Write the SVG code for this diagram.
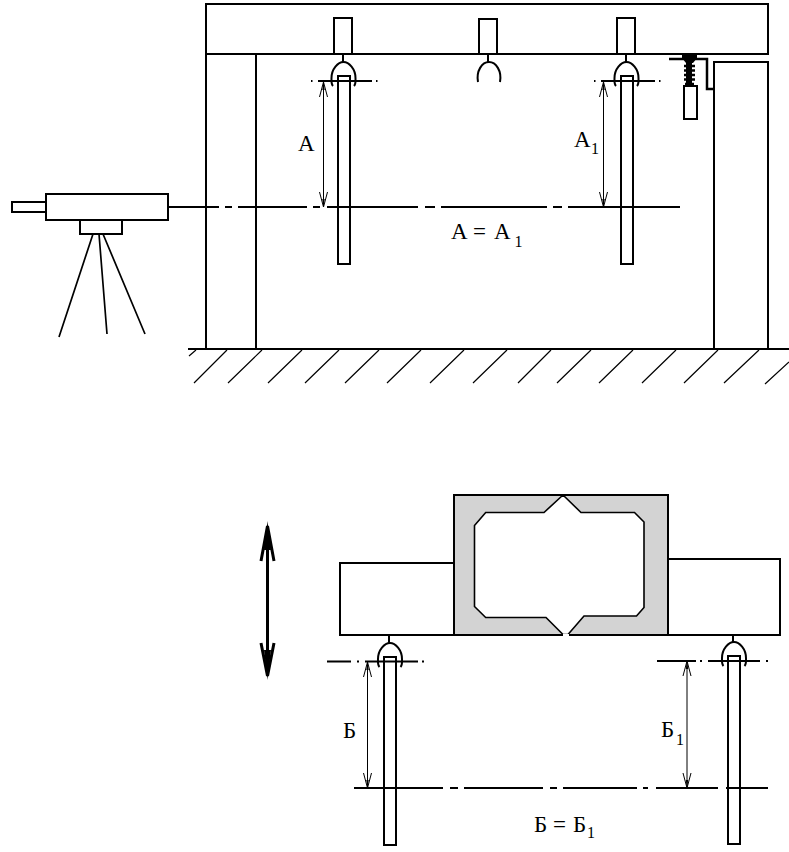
<svg xmlns="http://www.w3.org/2000/svg" width="789" height="852" viewBox="0 0 789 852">
<style>
.l{fill:none;stroke:#000;stroke-width:2}
.w{fill:#fff;stroke:#000;stroke-width:2}
.h{fill:none;stroke:#000;stroke-width:1.2}
.g{fill:none;stroke:#000;stroke-width:1.700}
.c{fill:none;stroke:#000;stroke-width:2.500}
.d{fill:none;stroke:#000;stroke-width:1}
.t{font-family:"Liberation Serif","Times New Roman",serif;font-size:23px;fill:#000}
.s{font-size:16px}
</style>
<defs>
<g id="hook"><path class="l" d="M-10,5 C-12,3 -11.500,-1 -11.500,-3 C-11.500,-12 -5,-19 0.500,-19 C6,-19 12.500,-12 12.500,-3 C12.500,-1 13,3 11,5"/></g>
<g id="arrUp"><path class="d" d="M-4,15 L0,0 L4,15"/><path d="M-1.200,8 L0,0 L1.200,8Z"/></g>
<g id="arrDown"><path class="d" d="M-4,-15 L0,0 L4,-15"/><path d="M-1.200,-8 L0,0 L1.200,-8Z"/></g>
</defs>
<rect width="789" height="852" fill="#fff"/>
<g id="frame">
<rect class="l" x="206" y="4" width="562" height="50"/>
<path class="l" d="M206,54V349M256,54V349M714,349V62H768V349"/>
</g>
<g id="ground">
<path class="l" d="M188,349H789"/>
<path class="h" d="M189,356L196,350M194,383L227,350M228,383L262,350M268,383L302,350M305,383L339,350M345,383L379,350M387,383L421,350M430,383L464,350M473,383L507,350M518,383L551,350M557,383L591,350M599,383L633,350M642,383L676,350M684,383L718,350M724,383L759,350M765,384L789,362"/>
</g>
<g id="level">
<rect class="l" x="12" y="202" width="34" height="10"/>
<rect class="l" x="46" y="194" width="122" height="26"/>
<rect class="l" x="80" y="220" width="42" height="14"/>
<path class="g" d="M93,234L59,337M99,234L107,334M103,234L145,334"/>
</g>
<g id="hanger1">
<rect class="l" x="334" y="18" width="18" height="36"/>
<path class="l" d="M343,54V62"/>
<use href="#hook" x="343" y="81"/>
</g>
<g id="hanger2">
<rect class="l" x="479" y="19" width="18" height="35"/>
<path class="l" d="M488,54V62"/>
<path class="l" d="M478,82C476,71 482,62 489,62C496,62 502,71 500,82"/>
</g>
<g id="hanger3">
<rect class="l" x="617" y="18" width="18" height="36"/>
<path class="l" d="M626,54V62"/>
<use href="#hook" x="626" y="81"/>
</g>
<g id="spring">
<path d="M682,54H697V58L693,63H686L682,58Z"/>
<path class="c" d="M669,59H707V89H714"/>
<path d="M686,60h6v26h-6z"/>
<path class="c" d="M684,66H695M684,70.500H695M684,75H695M684,79.500H695M685,84H694"/>
<rect class="w" x="684" y="86" width="13" height="33"/>
</g>
<g id="rods-top">
<rect class="w" x="338" y="76" width="12" height="188"/>
<rect class="w" x="621" y="76" width="12" height="188"/>
</g>
<g id="connectors-top">
<path class="l" d="M168,207H219M225,207H232M238,207H307M313,207H320M327,207H418M425,207H435M441,207H547M553,207H562M568,207H680"/>
<path class="l" d="M318,81H372M311,81H312.500M376,81H377.500M601,81H655M594,81H595.500M659,81H660.500"/>
<path class="d" d="M323.500,81V207M603.500,81V207"/>
<use href="#arrUp" x="323.500" y="82"/>
<use href="#arrDown" x="323.500" y="207"/>
<use href="#arrUp" x="603.500" y="82"/>
<use href="#arrDown" x="603.500" y="207"/>
</g>
<g id="beam">
<rect class="l" x="340" y="563" width="114" height="72"/>
<rect class="l" x="668" y="559" width="112" height="76"/>
<rect x="454" y="495" width="214" height="140" fill="#d3d3d3" stroke="#000" stroke-width="2"/>
<path fill="#fff" stroke="#000" stroke-width="1.600" d="M485.700,512.500H544L563,495L581,512.500H634.500L644,522V607.500L636.500,616H584L568,634.500H563L546,617.500H485.700L474.500,606.500V525.500Z"/>
<path d="M563,634h6v2.500h-6z" fill="#fff"/>
</g>
<g id="hanger4">
<path class="l" d="M389,635V643"/>
<use href="#hook" x="389.500" y="662"/>
</g>
<g id="hanger5">
<path class="l" d="M733,635V642"/>
<use href="#hook" x="733.500" y="661"/>
</g>
<g id="rods-bottom">
<rect class="w" x="384" y="657" width="12" height="188"/>
<rect class="w" x="728" y="656" width="12" height="188"/>
</g>
<g id="connectors-bottom">
<path class="l" d="M327,661.500H351M357,661.500H359M365,661.500H418M422,661.500H424M657,661H696M700,661H702M708,661H760M766,661H768"/>
<path class="l" d="M354,788H443M450,788H458M464,788H543M550,788H557M563,788H637M643,788H648M656,788H718M726,788H768"/>
<path class="d" d="M367.500,662V788M687,661V788"/>
<use href="#arrUp" x="367.500" y="662"/>
<use href="#arrDown" x="367.500" y="788"/>
<use href="#arrUp" x="687" y="661"/>
<use href="#arrDown" x="687" y="788"/>
</g>
<g id="double-arrow">
<path fill="none" stroke="#000" stroke-width="3" d="M267.500,526V676M261,561L267.500,526L274,561M261,643L267.500,676L274,643"/>
<path d="M264,550L267.500,521L271,550ZM264,650L267.500,680L271,650Z"/>
</g>
<g id="labels">
<text class="t" x="298" y="151">А</text>
<text class="t" x="574" y="147">А<tspan class="s" x="591" y="154">1</tspan></text>
<text class="t"><tspan x="451" y="239">А</tspan> <tspan x="473" y="239">=</tspan> <tspan x="494" y="239">А</tspan><tspan class="s" x="514.500" y="247">1</tspan></text>
<text class="t" x="343" y="738">Б</text>
<text class="t" x="661" y="737">Б<tspan class="s" x="676" y="745">1</tspan></text>
<text class="t"><tspan x="534" y="832">Б</tspan> <tspan x="553" y="832">=</tspan> <tspan x="573" y="832">Б</tspan><tspan class="s" x="587" y="838">1</tspan></text>
</g>
</svg>
